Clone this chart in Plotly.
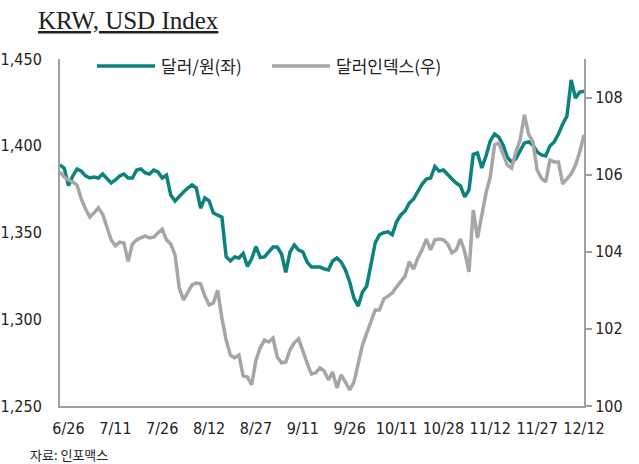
import pandas as pd
import plotly.graph_objects as go

# Business days from 6/24 to 12/12 (category positions)
DATES = pd.bdate_range("2024-06-24", "2024-12-12")
CATEGORIES = [f"{d.month}/{d.day}" for d in DATES]

TICK_LABELS = ["6/26", "7/11", "7/26", "8/12", "8/27", "9/11", "9/26",
               "10/11", "10/28", "11/12", "11/27", "12/12"]

KRW_USD = [
    1389, 1387, 1377, 1382.6, 1386.6, 1385.4, 1382.6, 1381.4, 1382, 1381.4,
    1383.7, 1380.8, 1378.5, 1380.3, 1382.6, 1383.7, 1381.4, 1381.4, 1386, 1386.6,
    1384.3, 1383.7, 1386, 1384.9, 1381.4, 1383.1, 1371.6, 1368.2, 1371, 1373.3,
    1375.6, 1377.4, 1375.6, 1364, 1369.9, 1368.2, 1361.2, 1360.1, 1358.9, 1336,
    1333.6, 1335.9, 1335.3, 1338, 1330.4, 1335, 1341.9, 1335.6, 1335.9, 1338.8,
    1341.6, 1341.6, 1337.6, 1327, 1338.8, 1342.8, 1339.9, 1338.8, 1333, 1330.1,
    1330.1, 1330.1, 1329, 1328.4, 1333.6, 1335.3, 1333, 1328.4, 1321.5, 1312.2,
    1307.6, 1315.7, 1319.2, 1330.7, 1344.1, 1348.7, 1349.9, 1350.4, 1348.7, 1356.2,
    1360.1, 1362.4, 1367, 1369.3, 1373.3, 1377.9, 1380.8, 1381.4, 1388, 1385.4,
    1386, 1383.1, 1380.8, 1378.5, 1376.8, 1370.5, 1374.5, 1395, 1395.8, 1387.2,
    1394.1, 1402.7, 1406.8, 1405, 1400.4, 1393.5, 1390.6, 1392.4, 1397, 1401.6,
    1402.2, 1400.4, 1396.4, 1394.7, 1394.1, 1399.9, 1402.2, 1406.8, 1412.5, 1417.1,
    1437.9, 1427.5, 1431, 1431.5,
]

DOLLAR_INDEX = [
    106.07, 105.94, 105.86, 105.81, 105.73, 105.37, 105.11, 104.90, 105.01, 105.14,
    104.98, 104.64, 104.31, 104.15, 104.25, 104.23, 103.75, 104.20, 104.31, 104.36,
    104.41, 104.36, 104.38, 104.49, 104.58, 104.31, 104.20, 103.92, 103.06, 102.75,
    102.93, 103.14, 103.19, 103.17, 102.85, 102.62, 102.67, 103.00, 102.28, 101.71,
    101.32, 101.25, 101.32, 100.78, 100.75, 100.55, 101.19, 101.51, 101.71, 101.66,
    101.76, 101.27, 101.12, 101.14, 101.46, 101.64, 101.74, 101.46, 101.12, 100.83,
    100.86, 100.99, 100.91, 100.68, 100.88, 100.47, 100.81, 100.62, 100.42, 100.62,
    101.09, 101.58, 101.89, 102.18, 102.49, 102.49, 102.78, 102.85, 102.93, 103.09,
    103.24, 103.37, 103.74, 103.55, 103.84, 104.05, 104.33, 104.05, 104.31, 104.33,
    104.31, 104.20, 103.97, 104.05, 104.33, 104.00, 103.48, 105.08, 104.36, 104.95,
    105.52, 105.94, 106.77, 106.82, 106.51, 106.25, 106.17, 106.59, 106.90, 107.55,
    107.05, 106.85, 106.12, 105.91, 105.81, 106.38, 106.33, 106.33, 105.76, 105.89,
    106.02, 106.25, 106.59, 107.03,
]

TEAL = "#0B827C"
GRAY = "#A6A6A6"
AXIS = "#A0A0A0"
TXT = "#222222"
TICKFONT = dict(family="Liberation Sans Narrow, DejaVu Sans Condensed, Liberation Sans, Arial, sans-serif",
                size=16, color=TXT)
KFONT = "Noto Sans CJK KR, Noto Sans, sans-serif"

fig = go.Figure()
fig.add_trace(go.Scatter(x=CATEGORIES, y=DOLLAR_INDEX, name="달러인덱스(우)", mode="lines",
                         line=dict(color=GRAY, width=3.5), yaxis="y2", showlegend=False))
fig.add_trace(go.Scatter(x=CATEGORIES, y=KRW_USD, name="달러/원(좌)", mode="lines",
                         line=dict(color=TEAL, width=3.5), yaxis="y", showlegend=False))

fig.update_layout(
    width=639, height=464,
    margin=dict(l=60, r=55, t=59, b=58),
    paper_bgcolor="white", plot_bgcolor="white",
    xaxis=dict(type="category", range=[0, len(CATEGORIES) - 1],
               tickvals=TICK_LABELS, ticktext=TICK_LABELS, automargin=False,
               showline=True, linecolor=AXIS, linewidth=2,
               ticks="outside", ticklen=7, tickcolor="rgba(0,0,0,0)",
               showgrid=False, zeroline=False, tickfont=TICKFONT, tickangle=0),
    yaxis=dict(range=[1250, 1450], dtick=50, tickformat=",", automargin=False,
               showline=True, linecolor=AXIS, linewidth=2,
               ticks="outside", ticklen=13, tickcolor="rgba(0,0,0,0)",
               showgrid=False, zeroline=False, tickfont=TICKFONT),
    yaxis2=dict(range=[100, 109], tickvals=[100, 102, 104, 106, 108],
                overlaying="y", side="right", automargin=False,
                showline=True, linecolor=AXIS, linewidth=2,
                ticks="outside", ticklen=6, tickcolor=AXIS, tickwidth=2,
                showgrid=False, zeroline=False, tickfont=TICKFONT),
)

# Legend drawn manually (long line samples like the original)
legend_items = [("달러/원(좌)", TEAL, 0.0706, 0.1813),
                ("달러인덱스(우)", GRAY, 0.4046, 0.5153)]
for label, color, x0, x1 in legend_items:
    fig.add_shape(type="line", xref="paper", yref="paper", x0=x0, x1=x1, y0=0.98, y1=0.98,
                  line=dict(color=color, width=3.5))
    fig.add_annotation(xref="paper", yref="paper", x=x1 + 0.008, y=0.98, text=label,
                       showarrow=False, xanchor="left", yanchor="middle",
                       font=dict(family=KFONT, size=17, color=TXT))

fig.add_annotation(xref="paper", yref="paper", x=-0.046, y=1.112,
                   text="<u>KRW, USD Index</u>", showarrow=False,
                   xanchor="left", yanchor="middle",
                   font=dict(family="Liberation Serif, Times New Roman, serif", size=25, color=TXT))
fig.add_annotation(xref="paper", yref="paper", x=-0.061, y=-0.141,
                   text="자료: 인포맥스", showarrow=False,
                   xanchor="left", yanchor="middle",
                   font=dict(family=KFONT, size=13, color=TXT))

fig.write_html("out.html", config={"displayModeBar": False},
               post_script="document.body.style.margin='0';document.body.style.padding='0';")
